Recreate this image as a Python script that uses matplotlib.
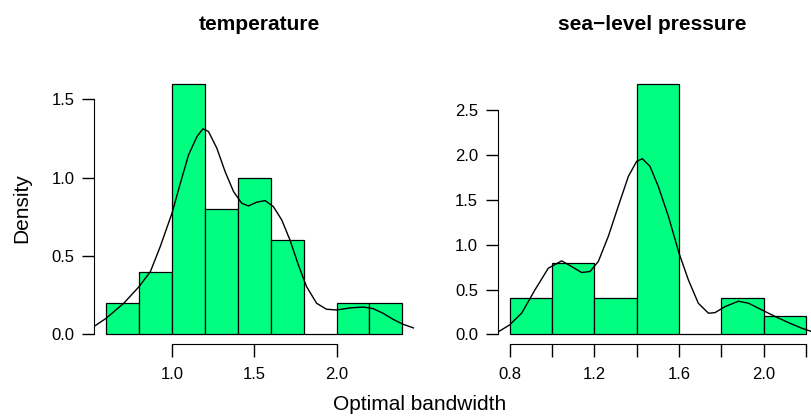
import numpy as np
from matplotlib import pyplot as plt

plt.rcParams['font.family'] = ['Liberation Sans', 'DejaVu Sans']

# histogram bins and densities
temp_edges = [0.6, 0.8, 1.0, 1.2, 1.4, 1.6, 1.8, 2.0, 2.2, 2.4]
temp_dens = [0.2, 0.4, 1.6, 0.8, 1.0, 0.6, 0.0, 0.2, 0.2]

slp_edges = [0.8, 1.0, 1.2, 1.4, 1.6, 1.8, 2.0, 2.2]
slp_dens = [0.4, 0.8, 0.4, 2.8, 0.0, 0.4, 0.2]

# density curves
temp_kde_x = [0.525, 0.600, 0.707, 0.800, 0.869, 0.929, 1.000, 1.051, 1.101, 1.152,
              1.188, 1.222, 1.273, 1.323, 1.374, 1.424, 1.465, 1.515, 1.566, 1.616,
              1.667, 1.717, 1.768, 1.818, 1.879, 1.939, 2.000, 2.081, 2.162, 2.222,
              2.283, 2.343, 2.404, 2.475]
temp_kde_y = [0.049, 0.102, 0.198, 0.304, 0.400, 0.560, 0.772, 0.964, 1.145, 1.262,
              1.311, 1.294, 1.187, 1.038, 0.911, 0.836, 0.819, 0.843, 0.853, 0.815,
              0.730, 0.602, 0.443, 0.304, 0.198, 0.160, 0.155, 0.168, 0.174, 0.164,
              0.134, 0.096, 0.064, 0.038]

slp_kde_x = [0.743, 0.800, 0.857, 0.920, 0.983, 1.046, 1.093, 1.140, 1.180, 1.219,
             1.266, 1.313, 1.361, 1.400, 1.427, 1.463, 1.502, 1.550, 1.600, 1.644,
             1.691, 1.739, 1.770, 1.817, 1.880, 1.928, 1.991, 2.054, 2.117, 2.180,
             2.227]
slp_kde_y = [0.022, 0.104, 0.235, 0.496, 0.738, 0.820, 0.757, 0.690, 0.701, 0.813,
             1.092, 1.428, 1.764, 1.931, 1.961, 1.875, 1.652, 1.316, 0.906, 0.608,
             0.347, 0.235, 0.242, 0.309, 0.369, 0.347, 0.272, 0.198, 0.130, 0.067,
             0.030]

temp_yticks = [0.0, 0.5, 1.0, 1.5]
temp_xticks = [1.0, 1.5, 2.0]
temp_xlabels = ["1.0", "1.5", "2.0"]

slp_yticks = [0.0, 0.5, 1.0, 1.5, 2.0, 2.5]
slp_xticks = [0.8, 1.0, 1.2, 1.4, 1.6, 1.8, 2.0, 2.2]
slp_xlabels = ["0.8", "", "1.2", "", "1.6", "", "2.0", ""]

GREEN = "#00FF80"
TICK_FS = 12
LAB_FS = 15


def r_hist(ax, edges, dens, kx, ky, yticks, xticks, xlabels, xlim, ylim):
    edges = np.array(edges)
    ax.bar(edges[:-1], dens, width=np.diff(edges), align='edge',
           color=GREEN, edgecolor='black', linewidth=0.9)
    ax.plot(kx, ky, color='black', linewidth=1.0)
    ax.set_xlim(*xlim)
    ax.set_ylim(*ylim)
    for s in ['top', 'right']:
        ax.spines[s].set_visible(False)
    ax.spines['left'].set_bounds(yticks[0], yticks[-1])
    ax.spines['bottom'].set_bounds(xticks[0], xticks[-1])
    ax.set_yticks(yticks)
    ax.set_yticklabels(["{:.1f}".format(t) for t in yticks])
    ax.set_xticks(xticks)
    ax.set_xticklabels(xlabels)
    ax.tick_params(direction='out', length=9, width=1.0, labelsize=TICK_FS)
    ax.tick_params(axis='x', pad=7)
    ax.tick_params(axis='y', pad=5)


fig = plt.figure(figsize=(8.12, 4.17), dpi=100)

ax1 = fig.add_axes([0.1161, 0.1743, 0.394, 0.6494])
r_hist(ax1, temp_edges, temp_dens, temp_kde_x, temp_kde_y, temp_yticks,
       temp_xticks, temp_xlabels, (0.528, 2.472), (-0.064, 1.664))

ax2 = fig.add_axes([0.6129, 0.1743, 0.3945, 0.6494])
r_hist(ax2, slp_edges, slp_dens, slp_kde_x, slp_kde_y, slp_yticks,
       slp_xticks, slp_xlabels, (0.744, 2.256), (-0.112, 2.912))

fig.text(259 / 812, 1 - 25 / 417, "temperature", ha='center', va='center',
         fontsize=LAB_FS, fontweight='bold')
fig.text(652 / 812, 1 - 25 / 417, "sea\u2212level pressure", ha='center', va='center',
         fontsize=LAB_FS, fontweight='bold')
fig.text(22 / 812, 1 - 208 / 417, "Density", rotation=90, ha='center', va='center',
         fontsize=LAB_FS)
fig.text(420 / 812, 1 - 404 / 417, "Optimal bandwidth", ha='center', va='center',
         fontsize=LAB_FS)

fig.savefig("out.png", dpi=100)
plt.close(fig)
